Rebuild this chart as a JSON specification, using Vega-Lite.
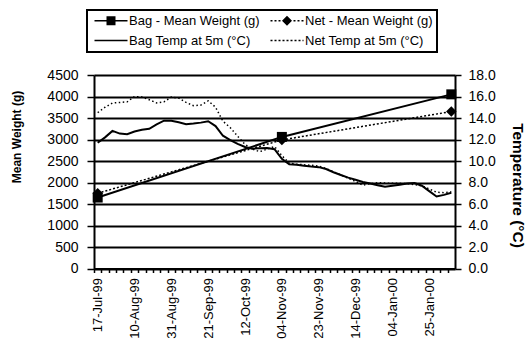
{
  "$schema": "https://vega.github.io/schema/vega-lite/v6.json",
  "width": 361,
  "height": 193.5,
  "autosize": {"type": "none"},
  "padding": {"left": 94, "top": 75, "right": 73, "bottom": 74.5},
  "background": "white",
  "config": {
    "view": {"stroke": null},
    "font": "Liberation Sans",
    "axis": {"labelColor": "black", "titleColor": "black", "labelFont": "Liberation Sans", "titleFont": "Liberation Sans"},
    "legend": {
      "orient": "none",
      "direction": "horizontal",
      "legendX": -7,
      "legendY": -65,
      "columns": 2,
      "columnPadding": 7,
      "rowPadding": 6,
      "padding": 4,
      "strokeColor": "black",
      "strokeWidth": 2,
      "fillColor": "white",
      "labelFont": "Liberation Sans",
      "labelFontSize": 13,
      "labelColor": "black",
      "labelOffset": 25,
      "labelLimit": 0,
      "symbolOpacity": 1,
      "symbolFillColor": "black",
      "symbolStrokeWidth": 0
    }
  },
  "datasets": {
    "temps": [
      {"date": "17-Jul-99", "bag": 11.7, "net": 14.5},
      {"date": "22-Jul-99", "bag": 12.2, "net": 15.0},
      {"date": "27-Jul-99", "bag": 12.8, "net": 15.4},
      {"date": "01-Aug-99", "bag": 12.55, "net": 15.45},
      {"date": "05-Aug-99", "bag": 12.5, "net": 15.5},
      {"date": "10-Aug-99", "bag": 12.75, "net": 16.0},
      {"date": "14-Aug-99", "bag": 12.9, "net": 15.95},
      {"date": "18-Aug-99", "bag": 13.0, "net": 15.7},
      {"date": "23-Aug-99", "bag": 13.4, "net": 15.4},
      {"date": "27-Aug-99", "bag": 13.75, "net": 15.5},
      {"date": "31-Aug-99", "bag": 13.75, "net": 15.95},
      {"date": "04-Sep-99", "bag": 13.6, "net": 15.85},
      {"date": "08-Sep-99", "bag": 13.42, "net": 15.45},
      {"date": "13-Sep-99", "bag": 13.48, "net": 15.15},
      {"date": "17-Sep-99", "bag": 13.57, "net": 15.2},
      {"date": "21-Sep-99", "bag": 13.7, "net": 15.6},
      {"date": "25-Sep-99", "bag": 13.25, "net": 15.0},
      {"date": "29-Sep-99", "bag": 12.35, "net": 13.7},
      {"date": "04-Oct-99", "bag": 11.95, "net": 13.1},
      {"date": "08-Oct-99", "bag": 11.6, "net": 12.3},
      {"date": "12-Oct-99", "bag": 11.3, "net": 11.55},
      {"date": "17-Oct-99", "bag": 11.15, "net": 11.1},
      {"date": "21-Oct-99", "bag": 11.18, "net": 10.87},
      {"date": "26-Oct-99", "bag": 11.2, "net": 11.1},
      {"date": "30-Oct-99", "bag": 11.1, "net": 11.35},
      {"date": "04-Nov-99", "bag": 10.2, "net": 10.5},
      {"date": "08-Nov-99", "bag": 9.7, "net": 9.8},
      {"date": "12-Nov-99", "bag": 9.65, "net": 9.7},
      {"date": "16-Nov-99", "bag": 9.55, "net": 9.65},
      {"date": "19-Nov-99", "bag": 9.48, "net": 9.6},
      {"date": "23-Nov-99", "bag": 9.43, "net": 9.53},
      {"date": "27-Nov-99", "bag": 9.25, "net": 9.3},
      {"date": "01-Dec-99", "bag": 8.95, "net": 9.0},
      {"date": "06-Dec-99", "bag": 8.7, "net": 8.7},
      {"date": "10-Dec-99", "bag": 8.45, "net": 8.4},
      {"date": "14-Dec-99", "bag": 8.25, "net": 8.1},
      {"date": "18-Dec-99", "bag": 8.05, "net": 7.75},
      {"date": "22-Dec-99", "bag": 7.9, "net": 7.9},
      {"date": "27-Dec-99", "bag": 7.75, "net": 7.98},
      {"date": "31-Dec-99", "bag": 7.61, "net": 7.95},
      {"date": "04-Jan-00", "bag": 7.7, "net": 7.92},
      {"date": "08-Jan-00", "bag": 7.8, "net": 7.92},
      {"date": "12-Jan-00", "bag": 7.9, "net": 7.9},
      {"date": "17-Jan-00", "bag": 7.95, "net": 7.8},
      {"date": "21-Jan-00", "bag": 7.7, "net": 7.7},
      {"date": "25-Jan-00", "bag": 7.2, "net": 7.4},
      {"date": "29-Jan-00", "bag": 6.7, "net": 7.1},
      {"date": "02-Feb-00", "bag": 6.85, "net": 7.05},
      {"date": "06-Feb-00", "bag": 7.05, "net": 7.14}
    ],
    "weights": [
      {"date": "17-Jul-99", "series": "Bag - Mean Weight (g)", "weight": 1650},
      {"date": "04-Nov-99", "series": "Bag - Mean Weight (g)", "weight": 3060},
      {"date": "06-Feb-00", "series": "Bag - Mean Weight (g)", "weight": 4050},
      {"date": "17-Jul-99", "series": "Net - Mean Weight (g)", "weight": 1750},
      {"date": "04-Nov-99", "series": "Net - Mean Weight (g)", "weight": 2990},
      {"date": "06-Feb-00", "series": "Net - Mean Weight (g)", "weight": 3650}
    ]
  },
  "encoding": {
    "x": {
      "field": "date",
      "type": "ordinal",
      "sort": null,
      "scale": {
        "type": "point",
        "padding": 0.5,
        "domain": ["17-Jul-99","22-Jul-99","27-Jul-99","01-Aug-99","05-Aug-99","10-Aug-99","14-Aug-99","18-Aug-99","23-Aug-99","27-Aug-99","31-Aug-99","04-Sep-99","08-Sep-99","13-Sep-99","17-Sep-99","21-Sep-99","25-Sep-99","29-Sep-99","04-Oct-99","08-Oct-99","12-Oct-99","17-Oct-99","21-Oct-99","26-Oct-99","30-Oct-99","04-Nov-99","08-Nov-99","12-Nov-99","16-Nov-99","19-Nov-99","23-Nov-99","27-Nov-99","01-Dec-99","06-Dec-99","10-Dec-99","14-Dec-99","18-Dec-99","22-Dec-99","27-Dec-99","31-Dec-99","04-Jan-00","08-Jan-00","12-Jan-00","17-Jan-00","21-Jan-00","25-Jan-00","29-Jan-00","02-Feb-00","06-Feb-00"]
      },
      "axis": {
        "title": null,
        "labelAngle": -90,
        "labelFontSize": 13,
        "labelOverlap": false,
        "labelBound": false,
        "labelPadding": 5,
        "labelExpr": "indexof(['17-Jul-99','10-Aug-99','31-Aug-99','21-Sep-99','12-Oct-99','04-Nov-99','23-Nov-99','14-Dec-99','04-Jan-00','25-Jan-00'], datum.value) >= 0 ? datum.value : ''",
        "tickOffset": -3.684,
        "labelOffset": 3.684,
        "tickSize": 4,
        "tickWidth": 1.5,
        "tickColor": "black",
        "domainColor": "black",
        "domainWidth": 2,
        "grid": false
      }
    }
  },
  "layer": [
    {
      "data": {"name": "temps"},
      "transform": [{"fold": ["bag", "net"], "as": ["series", "temp"]}],
      "encoding": {
        "y": {
          "field": "temp",
          "type": "quantitative",
          "scale": {"domain": [0, 18], "nice": false, "zero": true},
          "axis": {
            "orient": "right",
            "values": [0, 2, 4, 6, 8, 10, 12, 14, 16, 18],
            "format": ".1f",
            "grid": false,
            "domainColor": "black",
            "domainWidth": 2,
            "tickColor": "black",
            "tickWidth": 1.5,
            "tickSize": 6,
            "labelPadding": 7,
            "labelFontSize": 14,
            "title": "Temperature (°C)",
            "titleFontSize": 15.5,
            "titleFontWeight": "bold",
            "titleAngle": 90,
            "titleAlign": "center",
            "titleBaseline": "middle",
            "titleX": 62.5,
            "titleY": 110
          }
        }
      },
      "layer": [
        {
          "transform": [{"filter": "datum.series == 'bag'"}],
          "mark": {"type": "line", "color": "black", "strokeWidth": 2},
          "encoding": {}
        },
        {
          "transform": [{"filter": "datum.series == 'net'"}],
          "mark": {"type": "line", "color": "black", "strokeWidth": 1.5, "strokeDash": [1.5, 2.5]},
          "encoding": {}
        }
      ]
    },
    {
      "data": {"name": "weights"},
      "encoding": {
        "y": {
          "field": "weight",
          "type": "quantitative",
          "scale": {"domain": [0, 4500], "nice": false},
          "axis": {
            "orient": "left",
            "values": [0, 500, 1000, 1500, 2000, 2500, 3000, 3500, 4000, 4500],
            "format": "d",
            "grid": true,
            "gridColor": "black",
            "gridWidth": 2,
            "gridOpacity": 1,
            "domainColor": "black",
            "domainWidth": 2,
            "tickColor": "black",
            "tickWidth": 1.5,
            "tickSize": 7,
            "labelPadding": 9,
            "labelFontSize": 14,
            "title": "Mean Weight (g)",
            "titleFontSize": 12,
            "titleFontWeight": "bold",
            "titleAngle": -90,
            "titleAlign": "center",
            "titleBaseline": "middle",
            "titleX": -78,
            "titleY": 61.5
          }
        }
      },
      "layer": [
        {
          "transform": [{"filter": "datum.series == 'Bag - Mean Weight (g)'"}],
          "mark": {"type": "line", "color": "black", "strokeWidth": 2},
          "encoding": {}
        },
        {
          "transform": [{"filter": "datum.series == 'Net - Mean Weight (g)'"}],
          "mark": {"type": "line", "color": "black", "strokeWidth": 1.5, "strokeDash": [2, 2]},
          "encoding": {}
        },
        {
          "transform": [{"filter": "datum.series == 'Net - Mean Weight (g)'"}],
          "mark": {"type": "point", "shape": "diamond", "size": 110, "filled": true, "color": "black", "opacity": 1},
          "encoding": {}
        },
        {
          "transform": [{"filter": "datum.series == 'Bag - Mean Weight (g)'"}],
          "mark": {"type": "point", "shape": "square", "size": 100, "filled": true, "color": "black", "opacity": 1},
          "encoding": {}
        },
        {
          "transform": [{"filter": "false"}],
          "mark": {"type": "point", "size": 100, "filled": true, "color": "black", "opacity": 1},
          "encoding": {
            "shape": {
              "field": "series",
              "type": "nominal",
              "sort": null,
              "scale": {
                "domain": ["Bag - Mean Weight (g)", "Net - Mean Weight (g)", "Bag Temp at 5m (°C)", "Net Temp at 5m (°C)"],
                "range": [
                  "M-0.6,-0.16H6V0.16H-0.6Z M1.8,-0.9H3.6V0.9H1.8Z",
                  "M-0.6,-0.13h0.4v0.26h-0.4z M0.2,-0.13h0.4v0.26h-0.4z M1,-0.13h0.4v0.26h-0.4z M4,-0.13h0.4v0.26h-0.4z M4.8,-0.13h0.4v0.26h-0.4z M5.6,-0.13h0.4v0.26h-0.4z M2.7,-1L3.7,0L2.7,1L1.7,0Z",
                  "M-0.6,-0.16H6V0.16H-0.6Z",
                  "M-0.6,-0.13h0.4v0.26h-0.4z M0.2,-0.13h0.4v0.26h-0.4z M1,-0.13h0.4v0.26h-0.4z M1.8,-0.13h0.4v0.26h-0.4z M2.6,-0.13h0.4v0.26h-0.4z M3.4,-0.13h0.4v0.26h-0.4z M4.2,-0.13h0.4v0.26h-0.4z M5,-0.13h0.4v0.26h-0.4z M5.8,-0.13h0.2v0.26h-0.2z"
                ]
              },
              "legend": {
                "title": null,
                "direction": "horizontal",
                "columns": 2,
                "values": ["Bag - Mean Weight (g)", "Net - Mean Weight (g)", "Bag Temp at 5m (°C)", "Net Temp at 5m (°C)"],
                "encode": {
                  "symbols": {"fill": {"value": "black"}, "strokeWidth": {"value": 0}, "opacity": {"value": 1}},
                  "legend": {"strokeWidth": {"value": 2}}
                }
              }
            }
          }
        }
      ]
    }
  ],
  "resolve": {"scale": {"y": "independent"}}
}
